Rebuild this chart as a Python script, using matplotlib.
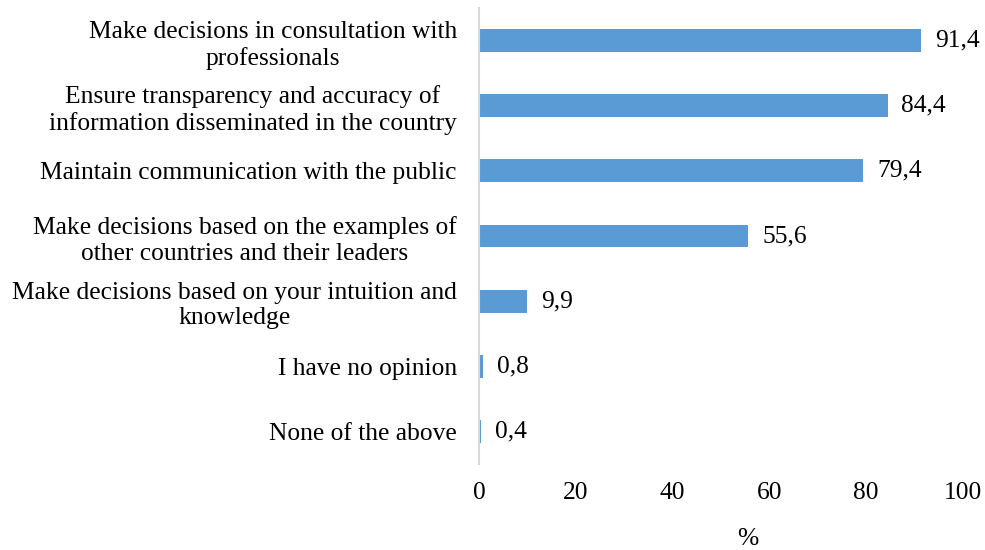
import matplotlib.pyplot as plt

plt.rcParams['font.family'] = ['Liberation Serif', 'DejaVu Serif']

categories = [
    "Make decisions in consultation with\nprofessionals",
    "Ensure transparency and accuracy of\ninformation disseminated in the country",
    "Maintain communication with the public",
    "Make decisions based on the examples of\nother countries and their leaders",
    "Make decisions based on your intuition and\nknowledge",
    "I have no opinion",
    "None of the above",
]
values = [91.4, 84.4, 79.4, 55.6, 9.9, 0.8, 0.4]
xticks = [0, 20, 40, 60, 80, 100]

fs = 18.4

fig = plt.figure(figsize=(9.85, 5.5), dpi=100)
ax = fig.add_axes([0.4863, 0.1564, 0.4914, 0.829])

pos = list(range(len(categories)))
bars = ax.barh(pos, values, height=0.35, color='#5b9bd5')
ax.bar_label(bars, labels=[f"{v:.1f}".replace('.', ',') for v in values],
             padding=10, fontsize=fs, color='black')

ax.set_ylim(len(categories) - 0.5, -0.5)
ax.set_xlim(0, 100)
ax.set_yticks(pos)
ax.set_yticklabels(categories, fontsize=fs, multialignment='center', linespacing=1.22)
ax.set_xticks(xticks)
ax.set_xticklabels([str(t) for t in xticks], fontsize=fs)
ax.tick_params(axis='y', length=0, pad=16)
ax.tick_params(axis='x', length=0, pad=13)

for s in ['top', 'right', 'bottom']:
    ax.spines[s].set_visible(False)
ax.spines['left'].set_color('#d9d9d9')
ax.spines['left'].set_linewidth(1.5)

ax.set_xlabel('%', fontsize=fs)
ax.xaxis.set_label_coords(0.556, -0.14)

fig.savefig('out.png', dpi=100)
